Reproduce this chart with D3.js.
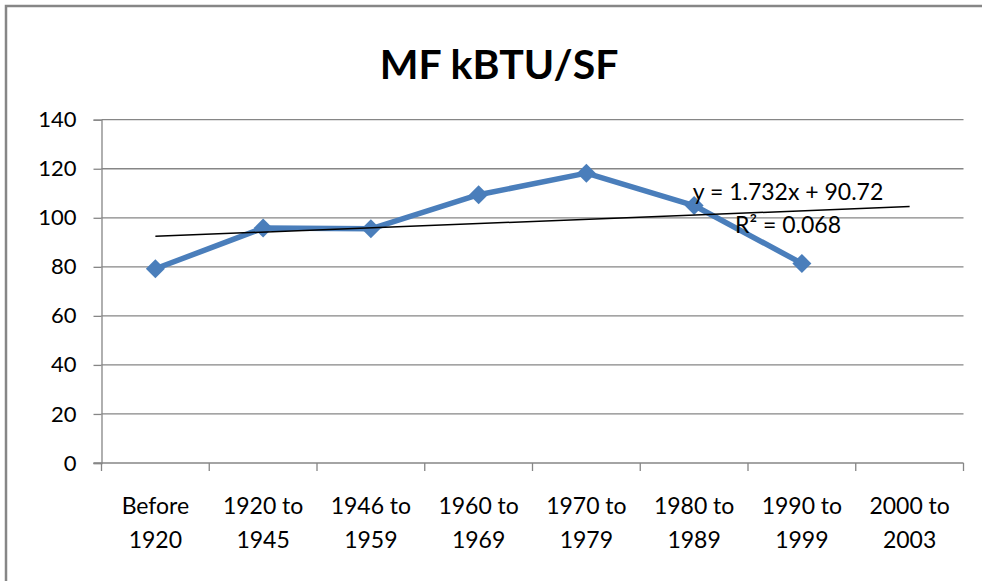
<!DOCTYPE html>
<html>
<head>
<meta charset="utf-8">
<script src="https://cdn.jsdelivr.net/npm/d3@7"></script>
<style>
  body { margin: 0; background: #fff; }
  svg text { font-family: Lato, "Open Sans", sans-serif; fill: #000; }
</style>
</head>
<body>
<svg id="chart" width="982" height="581"></svg>
<script>
// data
const categories = [
  ["Before", "1920"], ["1920 to", "1945"], ["1946 to", "1959"], ["1960 to", "1969"],
  ["1970 to", "1979"], ["1980 to", "1989"], ["1990 to", "1999"], ["2000 to", "2003"]
];
const values = [79.2, 95.8, 95.5, 109.4, 118.2, 105, 81.4];
const yTicks = [0, 20, 40, 60, 80, 100, 120, 140];
const trendSlope = 1.732;
const trendIntercept = 90.72;
const trendLabels = ["y = 1.732x + 90.72", "R² = 0.068"];
const title = "MF kBTU/SF";

const svg = d3.select("#chart");
const plotLeft = 101.5, plotRight = 963.5, plotTop = 119.7, plotBottom = 463;
const gray = "#868686";

// outer chart frame (right/bottom edges fall outside the picture)
svg.append("rect")
  .attr("x", 6).attr("y", 6).attr("width", 1000).attr("height", 620)
  .attr("fill", "none").attr("stroke", gray).attr("stroke-width", 2.5);

svg.append("text")
  .attr("x", 499).attr("y", 79)
  .attr("text-anchor", "middle")
  .style("font-size", "41px").style("font-weight", "bold")
  .text(title);

const x = d3.scaleBand().domain(d3.range(categories.length)).range([plotLeft, plotRight]);
const y = d3.scaleLinear().domain([0, 140]).range([plotBottom, plotTop]);

// gridlines
svg.append("g").selectAll("line").data(yTicks.filter(d => d > 0)).join("line")
  .attr("x1", plotLeft).attr("x2", plotRight)
  .attr("y1", d => y(d)).attr("y2", d => y(d))
  .attr("stroke", gray).attr("stroke-width", 1.3);

// y axis
const yAxis = svg.append("g")
  .attr("transform", `translate(${plotLeft},0)`)
  .call(d3.axisLeft(y).tickValues(yTicks).tickSize(8).tickPadding(17));
yAxis.select(".domain").attr("stroke", gray).attr("stroke-width", 1.3);
yAxis.selectAll(".tick line").attr("stroke", gray).attr("stroke-width", 1.3);
yAxis.selectAll("text").style("font-size", "22px").attr("font-family", null);

// x axis with ticks at category boundaries
const xg = svg.append("g");
xg.append("line").attr("x1", plotLeft - 8).attr("x2", plotRight)
  .attr("y1", plotBottom).attr("y2", plotBottom)
  .attr("stroke", gray).attr("stroke-width", 1.3);
xg.selectAll("line.t").data(d3.range(categories.length + 1)).join("line")
  .attr("class", "t")
  .attr("x1", i => plotLeft + i * x.step()).attr("x2", i => plotLeft + i * x.step())
  .attr("y1", plotBottom).attr("y2", plotBottom + 8)
  .attr("stroke", gray).attr("stroke-width", 1.3);
const lbl = xg.selectAll("text").data(categories).join("text")
  .attr("text-anchor", "middle")
  .style("font-size", "23px");
lbl.append("tspan").attr("x", (d, i) => x(i) + x.bandwidth() / 2).attr("y", 514).text(d => d[0]);
lbl.append("tspan").attr("x", (d, i) => x(i) + x.bandwidth() / 2).attr("y", 548).text(d => d[1]);

const cx = i => x(i) + x.bandwidth() / 2;

// series line
svg.append("path")
  .datum(values)
  .attr("fill", "none").attr("stroke", "#4a7ebb").attr("stroke-width", 5.5)
  .attr("stroke-linejoin", "round")
  .attr("d", d3.line().x((d, i) => cx(i)).y(d => y(d)));

svg.append("g").selectAll("path").data(values).join("path")
  .attr("d", d3.symbol().type(d3.symbolSquare).size(180))
  .attr("transform", (d, i) => `translate(${cx(i)},${y(d)}) rotate(45)`)
  .attr("fill", "#4a7ebb");

// linear trendline, x = 1..8
const tx = [1, categories.length];
svg.append("line")
  .attr("x1", cx(tx[0] - 1)).attr("y1", y(trendSlope * tx[0] + trendIntercept))
  .attr("x2", cx(tx[1] - 1)).attr("y2", y(trendSlope * tx[1] + trendIntercept))
  .attr("stroke", "#000").attr("stroke-width", 1.5);

const tl = svg.append("text").attr("text-anchor", "middle").style("font-size", "23px");
tl.append("tspan").attr("x", 788).attr("y", 200).text(trendLabels[0]);
tl.append("tspan").attr("x", 788).attr("y", 233).text(trendLabels[1]);
</script>
</body>
</html>
